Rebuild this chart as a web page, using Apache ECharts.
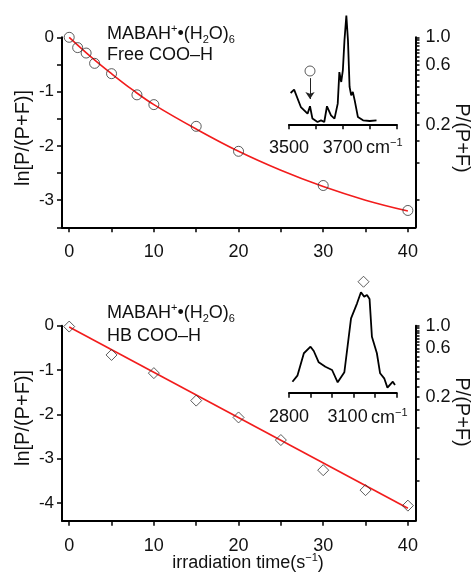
<!DOCTYPE html>
<html>
<head>
<meta charset="utf-8">
<script src="https://cdn.jsdelivr.net/npm/echarts@6/dist/echarts.min.js"></script>
<style>
  html, body { margin: 0; padding: 0; background: #fff; }
  #main { width: 472px; height: 573px; }
</style>
</head>
<body>
<div id="main"></div>
<script>
// top panel: free COO-H, circles + fitted curve
const timeFree = [0, 1, 2, 3, 5, 8, 10, 15, 20, 30, 40];
const lnFree = [0, -0.19, -0.29, -0.48, -0.67, -1.06, -1.24, -1.64, -2.10, -2.73, -3.19];
const fitFreeTime = [0, 2.5, 5, 7.5, 10, 15, 20, 25, 30, 35, 40];
const fitFreeLn = [0, -0.35, -0.67, -0.97, -1.24, -1.69, -2.10, -2.45, -2.75, -3.00, -3.20];

// bottom panel: HB COO-H, diamonds + straight fit
const timeHB = [0, 5, 10, 15, 20, 25, 30, 35, 40];
const lnHB = [-0.02, -0.66, -1.07, -1.69, -2.07, -2.58, -3.26, -3.71, -4.06];
const fitHBTime = [0, 40];
const fitHBLn = [-0.03, -4.12];

// inset spectra (cm-1, relative intensity)
const freeWn = [3506, 3519, 3544, 3569, 3578, 3587, 3606, 3619, 3631, 3641, 3656, 3669, 3681, 3687, 3694, 3700, 3706, 3713, 3719, 3725, 3731, 3737, 3744, 3756, 3775, 3800, 3825];
const freeInt = [0.285, 0.315, 0.157, 0.097, 0.164, 0.052, 0.021, 0.036, 0.021, 0.164, 0.082, 0.052, 0.188, 0.475, 0.385, 0.49, 0.764, 0.99, 0.764, 0.34, 0.264, 0.294, 0.218, 0.066, 0.036, 0.03, 0.036];
const freeMark = [3578, 0.485];
const freeArrow = [0.42, 0.23];

const hbWn = [2816, 2839, 2869, 2900, 2915, 2938, 2969, 3000, 3026, 3057, 3088, 3116, 3134, 3149, 3162, 3174, 3185, 3208, 3223, 3242, 3257, 3266, 3282, 3292];
const hbInt = [0.107, 0.166, 0.384, 0.448, 0.406, 0.296, 0.253, 0.221, 0.101, 0.199, 0.724, 0.870, 0.978, 0.935, 0.951, 0.912, 0.545, 0.384, 0.189, 0.140, 0.049, 0.049, 0.107, 0.075];
const hbMark = [3146, 1.08];

// ticks and labels
const timeLabels = [0, 10, 20, 30, 40];
const timeTicks = [0, 5, 10, 15, 20, 25, 30, 35, 40];
const lnLabelsTop = [0, -1, -2, -3];
const lnTicksTop = [0, -0.5, -1, -1.5, -2, -2.5, -3, -3.5];
const lnLabelsBottom = [0, -1, -2, -3, -4];
const ratioLabels = [1.0, 0.6, 0.2];
const ratioTicksTop = [1.0, 0.95, 0.9, 0.85, 0.8, 0.75, 0.7, 0.65, 0.6, 0.55, 0.5, 0.45, 0.4, 0.35, 0.3, 0.25, 0.2, 0.15, 0.1, 0.05];
const ratioTicksBottom = [1.0, 0.95, 0.9, 0.85, 0.8, 0.75, 0.7, 0.65, 0.6, 0.55, 0.5, 0.45, 0.4, 0.35, 0.3, 0.25, 0.2, 0.15, 0.1, 0.05, 0.03];
const freeWnLabels = [3500, 3700];
const hbWnLabels = [2800, 3100];

const FONT = '"Liberation Sans", Arial, sans-serif';
const INK = '#111';
const zip = (xs, ys) => xs.map((x, i) => [x, ys[i]]);
const line = { color: '#000', width: 2 };
const tickStyle = { color: '#000', width: 1.5 };

function timeAxis(gridIndex) {
  return {
    type: 'value', gridIndex, min: -0.85, max: 40.9,
    splitLine: { show: false },
    axisLine: { show: true, onZero: false, lineStyle: line },
    axisTick: { show: true, customValues: timeTicks, length: 5, lineStyle: tickStyle },
    axisLabel: { customValues: timeLabels, color: INK, fontSize: 18, fontFamily: FONT, margin: 16 }
  };
}
function lnAxis(gridIndex, min, ticks, labels) {
  return {
    type: 'value', gridIndex, position: 'left', min, max: 0,
    splitLine: { show: false },
    axisLine: { show: true, onZero: false, lineStyle: line },
    axisTick: { show: true, customValues: ticks, length: 5, lineStyle: tickStyle },
    axisLabel: { customValues: labels, color: INK, fontSize: 17, fontFamily: FONT, margin: 8 }
  };
}
function ratioAxis(gridIndex, min, ticks) {
  return {
    type: 'value', gridIndex, position: 'right', min, max: 0,
    splitLine: { show: false },
    axisLine: { show: true, onZero: false, lineStyle: line },
    axisTick: { show: true, customValues: ticks.map(Math.log), length: 4, lineStyle: tickStyle },
    axisLabel: {
      customValues: ratioLabels.map(Math.log), color: INK, fontSize: 18, fontFamily: FONT, margin: 10,
      formatter: v => Math.exp(v).toFixed(1)
    }
  };
}
// the label next to "cm-1" sits a little left of its tick, so it gets right padding
function wnAxis(gridIndex, min, max, labels, shiftLast) {
  return {
    type: 'value', gridIndex, min, max, interval: 100,
    splitLine: { show: false },
    axisLine: { show: true, onZero: false, lineStyle: line },
    axisTick: { show: true, length: 5, lineStyle: tickStyle },
    axisLabel: {
      customValues: labels, color: INK, fontSize: 18, fontFamily: FONT, margin: 15,
      formatter: v => (shiftLast && v === labels[labels.length - 1]) ? '{s|' + v + '}' : String(v),
      rich: { s: { fontSize: 18, fontFamily: FONT, color: INK, padding: [0, 12, 0, 0] } }
    }
  };
}
function points(data, symbol, size, x, y) {
  return {
    type: 'scatter', xAxisIndex: x, yAxisIndex: y, data, symbol, symbolSize: size, z: 5,
    itemStyle: { color: 'rgba(255,255,255,0)', borderColor: '#333', borderWidth: 1 }
  };
}
function trace(data, x, y, color, width, smooth) {
  return {
    type: 'line', xAxisIndex: x, yAxisIndex: y, data, symbol: 'none', smooth,
    lineStyle: { color, width }
  };
}

const rich = {
  t: { fontSize: 18, fontFamily: FONT, color: INK, lineHeight: 22 },
  sup: { fontSize: 11, fontFamily: FONT, color: INK, lineHeight: 11, verticalAlign: 'top' },
  sub: { fontSize: 11, fontFamily: FONT, color: INK, lineHeight: 11, verticalAlign: 'bottom', padding: [4, 0, 0, 0] }
};
const formula = '{t|MABAH}{sup|+}{t|•(H}{sub|2}{t|O)}{sub|6}';
function label(x, y, text, opts) {
  return {
    type: 'text', x, y, silent: true, rotation: (opts && opts.rotation) || 0,
    style: Object.assign({
      text, fill: INK, font: '18px ' + FONT, align: 'left', verticalAlign: 'middle', rich
    }, opts && opts.style)
  };
}

const chart = echarts.init(document.getElementById('main'));
chart.setOption({
  animation: false,
  grid: [
    { left: 62, right: 56.5, top: 37.3, height: 190 },
    { left: 289, right: 75.3, top: 10, height: 114.3 },
    { left: 62, right: 56.5, top: 325.7, height: 195 },
    { left: 289, right: 75.3, top: 279.7, height: 113 }
  ],
  xAxis: [
    timeAxis(0),
    wnAxis(1, 3500, 3900, freeWnLabels, false),
    timeAxis(2),
    wnAxis(3, 2800, 3300, hbWnLabels, true)
  ],
  yAxis: [
    lnAxis(0, -3.5, lnTicksTop, lnLabelsTop),
    ratioAxis(0, -3.5, ratioTicksTop),
    { type: 'value', gridIndex: 1, min: 0, max: 1.04, show: false },
    lnAxis(2, -4.4, lnLabelsBottom, lnLabelsBottom),
    ratioAxis(2, -4.4, ratioTicksBottom),
    { type: 'value', gridIndex: 3, min: 0, max: 1.1, show: false }
  ],
  series: [
    trace(zip(fitFreeTime, fitFreeLn), 0, 0, '#f21c1c', 1.6, 0.4),
    points(zip(timeFree, lnFree), 'circle', 10, 0, 0),
    trace(zip(freeWn, freeInt), 1, 2, '#000', 1.8, false),
    Object.assign(points([freeMark], 'circle', 10, 1, 2), {
      markLine: {
        silent: true, symbol: ['none', 'arrow'], symbolSize: 7,
        lineStyle: { color: '#222', width: 1, type: 'solid' }, label: { show: false },
        data: [[{ coord: [freeMark[0], freeArrow[0]] }, { coord: [freeMark[0], freeArrow[1]] }]]
      }
    }),
    trace(zip(fitHBTime, fitHBLn), 2, 3, '#f21c1c', 1.6, false),
    points(zip(timeHB, lnHB), 'diamond', 11, 2, 3),
    trace(zip(hbWn, hbInt), 3, 5, '#000', 1.8, false),
    points([hbMark], 'diamond', 11, 3, 5)
  ],
  graphic: [
    label(107, 34, formula),
    label(107, 55, 'Free COO–H'),
    label(107, 313, formula),
    label(107, 336, 'HB COO–H'),
    label(366, 148, '{t|cm}{sup|−1}'),
    label(371, 418, '{t|cm}{sup|−1}'),
    label(248, 563, '{t|irradiation time(s}{sup|−1}{t|)}', { style: { align: 'center' } }),
    label(23, 138, 'ln[P/(P+F)]', { rotation: Math.PI / 2, style: { align: 'center', font: '20px ' + FONT } }),
    label(23, 418, 'ln[P/(P+F)]', { rotation: Math.PI / 2, style: { align: 'center', font: '20px ' + FONT } }),
    label(462, 138, 'P/(P+F)', { rotation: -Math.PI / 2, style: { align: 'center', font: '20px ' + FONT } }),
    label(462, 412, 'P/(P+F)', { rotation: -Math.PI / 2, style: { align: 'center', font: '20px ' + FONT } })
  ]
});
</script>
</body>
</html>
